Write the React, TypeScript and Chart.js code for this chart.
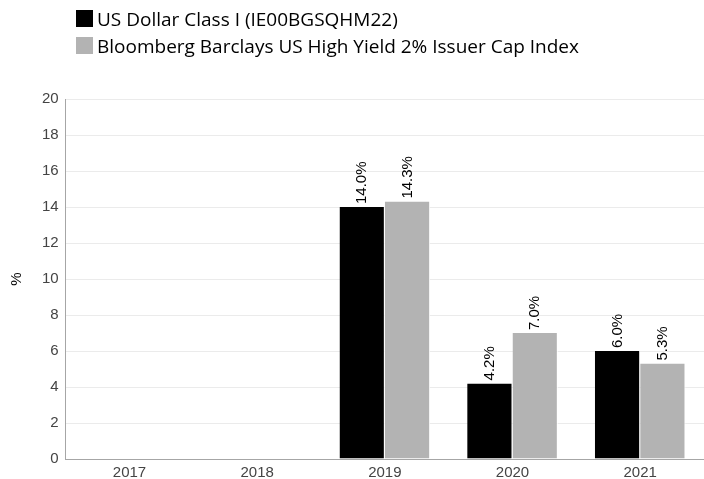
import React, { useEffect, useRef } from "react";
import { Chart, registerables } from "chart.js";

Chart.register(...registerables);

const categories = ["2017", "2018", "2019", "2020", "2021"];
const fundLabel = "US Dollar Class I (IE00BGSQHM22)";
const indexLabel = "Bloomberg Barclays US High Yield 2% Issuer Cap Index";
const fundValues: (number | null)[] = [null, null, 14.0, 4.2, 6.0];
const indexValues: (number | null)[] = [null, null, 14.3, 7.0, 5.3];
const yTicks = [0, 2, 4, 6, 8, 10, 12, 14, 16, 18, 20];

const FUND_COLOR = "#000000";
const INDEX_COLOR = "#b3b3b3";
const FONT = "'Liberation Sans', Arial, sans-serif";

const valueLabelPlugin = {
  id: "valueLabels",
  afterDatasetsDraw(chart: any) {
    const ctx = chart.ctx;
    ctx.save();
    ctx.font = "15px " + FONT;
    ctx.fillStyle = "#000";
    ctx.textAlign = "left";
    ctx.textBaseline = "middle";
    chart.data.datasets.forEach((ds: any, i: number) => {
      const meta = chart.getDatasetMeta(i);
      meta.data.forEach((bar: any, j: number) => {
        const v = ds.data[j];
        if (v === null || v === undefined) return;
        ctx.save();
        ctx.translate(bar.x, bar.y - 3);
        ctx.rotate(-Math.PI / 2);
        ctx.fillText(v.toFixed(1) + "%", 0, 0);
        ctx.restore();
      });
    });
    ctx.restore();
  },
};

export default function App() {
  const canvasRef = useRef<HTMLCanvasElement | null>(null);

  useEffect(() => {
    document.body.style.margin = "0";
    const canvas = canvasRef.current;
    if (!canvas) return;
    const chart = new Chart(canvas, {
      type: "bar",
      data: {
        labels: categories,
        datasets: [
          {
            label: fundLabel,
            data: fundValues,
            backgroundColor: FUND_COLOR,
            borderColor: "#ffffff",
            borderWidth: { left: 0, right: 1, top: 0, bottom: 0 },
            categoryPercentage: 0.71,
            barPercentage: 1,
          },
          {
            label: indexLabel,
            data: indexValues,
            backgroundColor: INDEX_COLOR,
            borderColor: "#ffffff",
            borderWidth: { left: 0, right: 1, top: 0, bottom: 0 },
            categoryPercentage: 0.71,
            barPercentage: 1,
          },
        ] as any,
      },
      options: {
        animation: false,
        responsive: false,
        maintainAspectRatio: false,
        layout: { padding: { top: 99, right: 0, left: 1, bottom: 0 } },
        plugins: {
          legend: { display: false },
          tooltip: { enabled: false },
        },
        scales: {
          x: {
            grid: { display: false, drawTicks: false },
            border: { color: "#a6a6a6", width: 1 },
            ticks: {
              color: "#444",
              font: { family: FONT, size: 15 },
              padding: 5,
            },
          },
          y: {
            min: 0,
            max: 20,
            afterBuildTicks: (scale: any) => {
              scale.ticks = yTicks.map((v) => ({ value: v }));
            },
            grid: { color: "#ebebeb", drawTicks: false },
            border: { color: "#a6a6a6", width: 1 },
            ticks: {
              color: "#444",
              font: { family: FONT, size: 15 },
              padding: 7,
            },
            title: {
              display: true,
              text: "%",
              color: "#000",
              font: { family: FONT, size: 15 },
              padding: { top: 7, bottom: 9 },
            },
          },
        },
      },
      plugins: [valueLabelPlugin],
    });
    return () => chart.destroy();
  }, []);

  const legendItem = (color: string, text: string) => (
    <div style={{ display: "flex", alignItems: "center", height: 27 }}>
      <span
        style={{
          display: "inline-block",
          width: 17,
          height: 17,
          background: color,
          marginRight: 4,
        }}
      />
      <span>{text}</span>
    </div>
  );

  return (
    <div style={{ position: "relative", width: 704, height: 479, overflow: "hidden" }}>
      <canvas ref={canvasRef} width={704} height={487} style={{ display: "block" }} />
      <div
        style={{
          position: "absolute",
          left: 76,
          top: 5,
          fontFamily: "'Open Sans', sans-serif",
          fontSize: 19,
          color: "#000",
          lineHeight: "22px",
        }}
      >
        {legendItem(FUND_COLOR, fundLabel)}
        {legendItem(INDEX_COLOR, indexLabel)}
      </div>
    </div>
  );
}
